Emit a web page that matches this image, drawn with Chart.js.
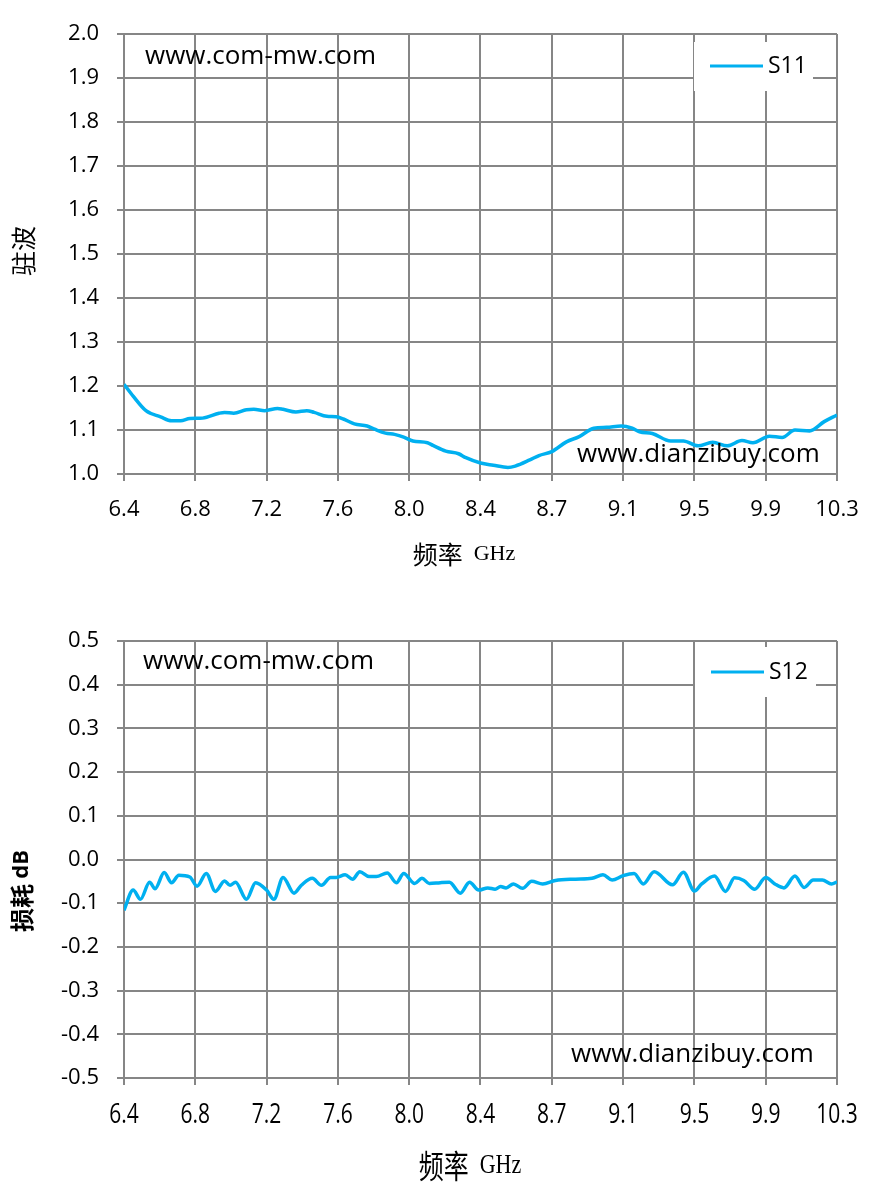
<!DOCTYPE html>
<html>
<head>
<meta charset="utf-8">
<script src="https://cdn.jsdelivr.net/npm/chart.js@4.4.1/dist/chart.umd.min.js"></script>
<style>
  html, body { margin: 0; padding: 0; background: #fff; }
  .box { position: relative; width: 871px; }
  canvas { display: block; }
</style>
</head>
<body>
<div class="box" style="height:595px"><canvas id="s11Chart" width="871" height="595"></canvas></div>
<div class="box" style="height:596px"><canvas id="s12Chart" width="871" height="596"></canvas></div>
<script>
// x axis (GHz) - shared tick positions / labels
const xTickValues = [6.4, 6.79, 7.18, 7.57, 7.96, 8.35, 8.74, 9.13, 9.52, 9.91, 10.3];
const xTickLabels = ['6.4', '6.8', '7.2', '7.6', '8.0', '8.4', '8.7', '9.1', '9.5', '9.9', '10.3'];

// S11 (VSWR)
const s11Freq = [6.40, 6.45, 6.52, 6.60, 6.66, 6.71, 6.76, 6.83, 6.92, 6.95,
                 7.00, 7.07, 7.11, 7.17, 7.24, 7.27, 7.34, 7.40, 7.44, 7.51,
                 7.56, 7.60, 7.66, 7.73, 7.77, 7.83, 7.88, 7.93, 7.98, 8.06,
                 8.09, 8.16, 8.23, 8.27, 8.35, 8.42, 8.50, 8.54, 8.62, 8.67,
                 8.74, 8.82, 8.89, 8.97, 9.04, 9.12, 9.18, 9.22, 9.29, 9.39,
                 9.46, 9.54, 9.62, 9.70, 9.78, 9.84, 9.93, 10.00, 10.07, 10.15,
                 10.23, 10.30];
const s11Vswr = [1.204, 1.177, 1.144, 1.130, 1.121, 1.121, 1.126, 1.127, 1.138, 1.140,
                 1.138, 1.146, 1.147, 1.144, 1.149, 1.147, 1.141, 1.144, 1.140, 1.131,
                 1.130, 1.125, 1.114, 1.109, 1.102, 1.093, 1.090, 1.084, 1.075, 1.071,
                 1.065, 1.052, 1.046, 1.037, 1.025, 1.020, 1.015, 1.018, 1.032, 1.042,
                 1.051, 1.073, 1.085, 1.104, 1.106, 1.109, 1.104, 1.096, 1.092, 1.075,
                 1.075, 1.064, 1.072, 1.064, 1.076, 1.071, 1.086, 1.083, 1.100, 1.098,
                 1.119, 1.134];

// S12 (insertion loss, dB)
const s12Freq = [6.40, 6.45, 6.49, 6.54, 6.57, 6.62, 6.66, 6.70, 6.76, 6.80,
                 6.85, 6.90, 6.95, 6.98, 7.01, 7.07, 7.12, 7.18, 7.22, 7.27,
                 7.33, 7.37, 7.43, 7.48, 7.53, 7.56, 7.61, 7.65, 7.69, 7.74,
                 7.78, 7.84, 7.89, 7.93, 7.99, 8.03, 8.07, 8.13, 8.18, 8.24,
                 8.29, 8.34, 8.39, 8.43, 8.46, 8.49, 8.53, 8.58, 8.63, 8.69,
                 8.76, 8.87, 8.96, 9.02, 9.07, 9.13, 9.19, 9.24, 9.30, 9.40,
                 9.46, 9.52, 9.56, 9.63, 9.69, 9.74, 9.79, 9.85, 9.91, 9.96,
                 10.01, 10.07, 10.12, 10.17, 10.22, 10.27, 10.30];
const s12Loss = [-0.116, -0.070, -0.091, -0.052, -0.067, -0.030, -0.053, -0.036, -0.040, -0.061,
                 -0.032, -0.073, -0.049, -0.059, -0.052, -0.091, -0.053, -0.070, -0.091, -0.041,
                 -0.077, -0.059, -0.043, -0.059, -0.041, -0.041, -0.035, -0.045, -0.028, -0.039,
                 -0.039, -0.031, -0.053, -0.032, -0.055, -0.043, -0.055, -0.053, -0.052, -0.077,
                 -0.052, -0.070, -0.065, -0.068, -0.062, -0.065, -0.056, -0.066, -0.050, -0.056,
                 -0.048, -0.045, -0.043, -0.035, -0.047, -0.037, -0.032, -0.056, -0.028, -0.058,
                 -0.029, -0.072, -0.056, -0.038, -0.073, -0.042, -0.048, -0.068, -0.041, -0.056,
                 -0.065, -0.038, -0.064, -0.047, -0.047, -0.056, -0.051];

const GRID = '#868686';
const LINE = '#00b0f0';
const SANS = "'Open Sans', sans-serif";
const CJK = "'Noto Sans CJK SC'";

// draws legend box, watermarks, axis titles (mixed fonts) and stretched x labels
const decorPlugin = {
    id: 'decor',
    afterDraw(chart, args, opts) {
        const ctx = chart.ctx;
        ctx.save();
        const lg = opts.legend;
        ctx.fillStyle = '#fff';
        ctx.fillRect(lg.x, lg.y, lg.w, lg.h);
        const ds = chart.data.datasets[0];
        ctx.strokeStyle = ds.borderColor;
        ctx.lineWidth = 3;
        ctx.beginPath();
        ctx.moveTo(lg.x1, lg.ly);
        ctx.lineTo(lg.x2, lg.ly);
        ctx.stroke();
        ctx.fillStyle = '#000';
        ctx.textBaseline = 'middle';
        ctx.textAlign = 'left';
        ctx.font = '23px ' + SANS;
        ctx.fillText(ds.label, lg.tx, lg.ly);

        opts.marks.forEach(m => {
            ctx.font = '26px ' + SANS;
            ctx.fillText(m.text, m.x, m.y);
        });

        // x tick labels drawn taller than wide (the reference is stretched)
        if (opts.xLabels) {
            const xs = chart.scales.x;
            ctx.font = opts.xLabels.font;
            ctx.textAlign = 'center';
            xTickValues.forEach((v, i) => {
                ctx.save();
                ctx.translate(xs.getPixelForValue(v), opts.xLabels.y);
                ctx.scale(1, opts.xLabels.sy);
                ctx.fillText(xTickLabels[i], 0, 0);
                ctx.restore();
            });
            ctx.textAlign = 'left';
        }

        opts.titles.forEach(t => {
            ctx.save();
            ctx.translate(t.x, t.y);
            if (t.rotate) ctx.rotate(-Math.PI / 2);
            if (t.sy) ctx.scale(1, t.sy);
            let total = 0;
            t.parts.forEach(p => { ctx.font = p.font; total += ctx.measureText(p.text).width; });
            let x = -total / 2;
            t.parts.forEach(p => {
                ctx.font = p.font;
                ctx.fillText(p.text, x, 0);
                x += ctx.measureText(p.text).width;
            });
            ctx.restore();
        });
        ctx.restore();
    }
};

function xScale(showLabels, labelPad, height) {
    return {
        type: 'linear',
        min: 6.4,
        max: 10.3,
        afterBuildTicks: (scale) => { scale.ticks = xTickValues.map(v => ({ value: v })); },
        afterFit: (scale) => {
            scale.height = height;
            scale.paddingLeft = 0;
            scale.paddingRight = 0;
        },
        grid: { color: GRID, lineWidth: 2, tickLength: 7 },
        border: { color: GRID, width: 2 },
        ticks: {
            display: showLabels,
            autoSkip: false,
            maxRotation: 0,
            padding: labelPad,
            color: '#000',
            font: { family: SANS, size: 22 },
            callback: (value, index) => xTickLabels[index]
        }
    };
}

function yScale(min, max) {
    return {
        min: min,
        max: max,
        afterFit: (scale) => { scale.width = 124; },
        grid: { color: GRID, lineWidth: 2, tickLength: 7 },
        border: { color: GRID, width: 2 },
        ticks: {
            stepSize: 0.1,
            padding: 18,
            color: '#000',
            font: { family: SANS, size: 22 },
            callback: (v) => (Math.round(v * 10) / 10).toFixed(1)
        }
    };
}

new Chart(document.getElementById('s11Chart'), {
    type: 'line',
    data: {
        datasets: [{
            label: 'S11',
            data: s11Freq.map((f, i) => ({ x: f, y: s11Vswr[i] })),
            borderColor: LINE,
            borderWidth: 3.5,
            pointRadius: 0,
            fill: false,
            tension: 0.4,
            cubicInterpolationMode: 'monotone'
        }]
    },
    options: {
        responsive: false,
        animation: false,
        devicePixelRatio: 1,
        layout: { padding: { top: 34, right: 34, left: 0, bottom: 0 } },
        scales: {
            x: xScale(true, 16, 121),
            y: yScale(1.0, 2.0)
        },
        plugins: {
            legend: { display: false },
            tooltip: { enabled: false },
            decor: {
                legend: { x: 694, y: 42, w: 119, h: 49, x1: 710, x2: 763, ly: 66, tx: 768 },
                marks: [
                    { text: 'www.com-mw.com', x: 145, y: 57 },
                    { text: 'www.dianzibuy.com', x: 577, y: 455 }
                ],
                titles: [
                    { x: 464, y: 554, parts: [{ text: '频率', font: '25px ' + CJK }, { text: '  GHz', font: "22px 'Liberation Serif'" }] },
                    { x: 23, y: 251, rotate: true, parts: [{ text: '驻波', font: '25px ' + CJK }] }
                ]
            }
        }
    },
    plugins: [decorPlugin]
});

new Chart(document.getElementById('s12Chart'), {
    type: 'line',
    data: {
        datasets: [{
            label: 'S12',
            data: s12Freq.map((f, i) => ({ x: f, y: s12Loss[i] })),
            borderColor: LINE,
            borderWidth: 3.5,
            pointRadius: 0,
            fill: false,
            tension: 0.4,
            cubicInterpolationMode: 'monotone'
        }]
    },
    options: {
        responsive: false,
        animation: false,
        devicePixelRatio: 1,
        layout: { padding: { top: 46, right: 34, left: 0, bottom: 0 } },
        scales: {
            x: xScale(false, 14, 113),
            y: yScale(-0.5, 0.5)
        },
        plugins: {
            legend: { display: false },
            tooltip: { enabled: false },
            decor: {
                legend: { x: 695, y: 52, w: 121, h: 50, x1: 711, x2: 764, ly: 77, tx: 769 },
                marks: [
                    { text: 'www.com-mw.com', x: 143, y: 67 },
                    { text: 'www.dianzibuy.com', x: 571, y: 460 }
                ],
                xLabels: { y: 520, sy: 1.3, font: '21px ' + SANS },
                titles: [
                    { x: 470, y: 571, sy: 1.25, parts: [{ text: '频率', font: '25px ' + CJK }, { text: '  GHz', font: "22px 'Liberation Serif'" }] },
                    { x: 22, y: 296, rotate: true, parts: [{ text: '损耗 ', font: 'bold 24px ' + CJK }, { text: 'dB', font: 'bold 22px ' + SANS }] }
                ]
            }
        }
    },
    plugins: [decorPlugin]
});
</script>
</body>
</html>
